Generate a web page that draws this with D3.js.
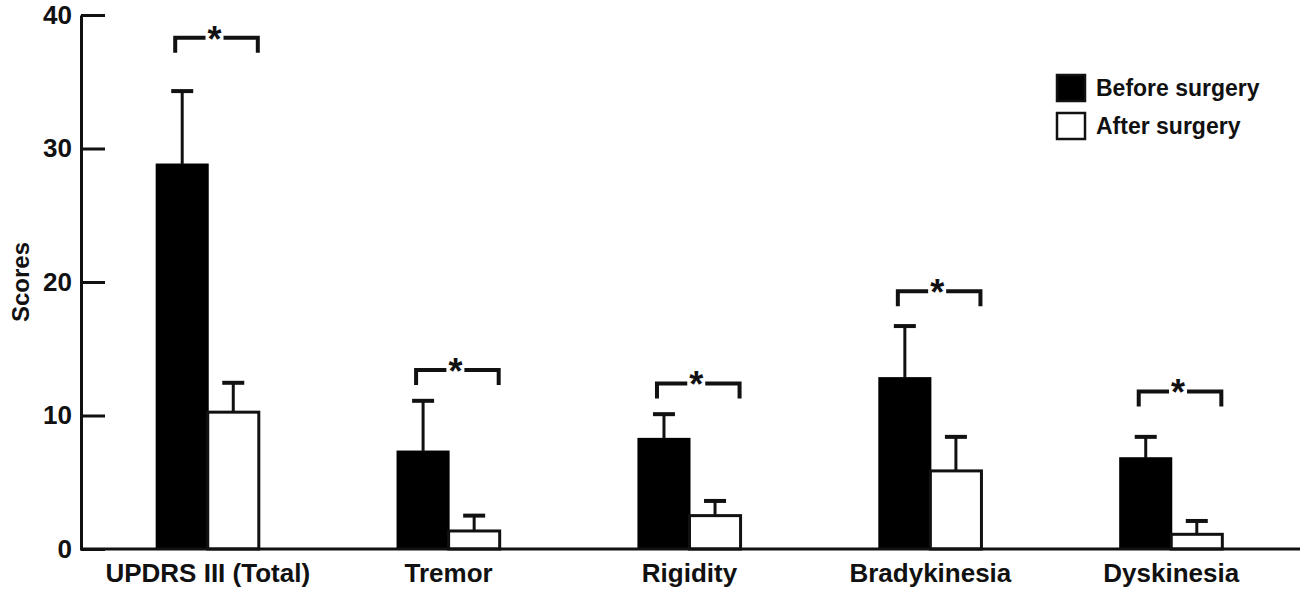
<!DOCTYPE html>
<html>
<head>
    <meta charset="utf-8">
    <title></title>
    <script src="https://cdn.jsdelivr.net/npm/d3@7"></script>
    <style>
        * {
            margin: 0;
            padding: 0;
        }

        body {
            background: #fff;
        }

        #chart text {
            font-family: "Liberation Sans", Arial, sans-serif;
            font-weight: bold;
            fill: #111;
        }
    </style>
</head>
<body>
    <div id="chart"></div>

    <script>
        // data
        var categories = ["UPDRS III (Total)", "Tremor", "Rigidity", "Bradykinesia", "Dyskinesia"];
        var beforeMean = [28.8, 7.3, 8.25, 12.8, 6.8];
        var beforeErr = [5.5, 3.8, 1.85, 3.9, 1.6];
        var afterMean = [10.25, 1.35, 2.5, 5.85, 1.1];
        var afterErr = [2.2, 1.15, 1.1, 2.55, 1.0];
        var sigLevel = [38.3, 13.4, 12.4, 19.3, 11.8];
        var yTicks = [0, 10, 20, 30, 40];
        var seriesNames = ["Before surgery", "After surgery"];

        var width = 1300, height = 599;

        var svg = d3.select("#chart")
            .append("svg")
            .attr("width", width)
            .attr("height", height);

        var x = d3.scaleBand()
            .domain(categories)
            .range([82, 1297])
            .paddingInner(0.576)
            .paddingOuter(0.31);

        var sub = d3.scaleBand()
            .domain(["before", "after"])
            .range([0, x.bandwidth()]);

        var y = d3.scaleLinear()
            .domain([0, 40])
            .range([549, 15]);

        var data = categories.map(function (c, i) {
            return {
                cat: c,
                before: beforeMean[i], beforeErr: beforeErr[i],
                after: afterMean[i], afterErr: afterErr[i],
                sig: sigLevel[i]
            };
        });

        // bars
        var g = svg.append("g");

        g.selectAll(".before")
            .data(data)
            .enter().append("rect")
            .attr("x", function (d) { return x(d.cat) + sub("before"); })
            .attr("y", function (d) { return y(d.before); })
            .attr("width", sub.bandwidth())
            .attr("height", function (d) { return y(0) - y(d.before); })
            .attr("fill", "#000")
            .attr("stroke", "#000")
            .attr("stroke-width", 2);

        g.selectAll(".after")
            .data(data)
            .enter().append("rect")
            .attr("x", function (d) { return x(d.cat) + sub("after"); })
            .attr("y", function (d) { return y(d.after); })
            .attr("width", sub.bandwidth())
            .attr("height", function (d) { return y(0) - y(d.after); })
            .attr("fill", "#fff")
            .attr("stroke", "#111")
            .attr("stroke-width", 3);

        // error bars
        function errorBars(key, errKey) {
            var cx = function (d) { return x(d.cat) + sub(key) + sub.bandwidth() / 2; };
            g.selectAll(".err-" + key)
                .data(data)
                .enter().append("line")
                .attr("x1", cx).attr("x2", cx)
                .attr("y1", function (d) { return y(d[key]); })
                .attr("y2", function (d) { return y(d[key] + d[errKey]); })
                .attr("stroke", "#111")
                .attr("stroke-width", 3);
            g.selectAll(".cap-" + key)
                .data(data)
                .enter().append("line")
                .attr("x1", function (d) { return cx(d) - 11; })
                .attr("x2", function (d) { return cx(d) + 11; })
                .attr("y1", function (d) { return y(d[key] + d[errKey]); })
                .attr("y2", function (d) { return y(d[key] + d[errKey]); })
                .attr("stroke", "#111")
                .attr("stroke-width", 4);
        }
        errorBars("before", "beforeErr");
        errorBars("after", "afterErr");

        // significance brackets
        data.forEach(function (d) {
            var x1 = x(d.cat) + sub("before") + sub.bandwidth() / 2 - 7;
            var x2 = x(d.cat) + sub("after") + sub.bandwidth() - 1;
            var xc = (x1 + x2) / 2 - 2;
            var ly = y(d.sig);
            svg.append("path")
                .attr("d", "M" + x1 + "," + (ly + 15) + "V" + ly + "H" + (xc - 9))
                .attr("fill", "none")
                .attr("stroke", "#111")
                .attr("stroke-width", 4);
            svg.append("path")
                .attr("d", "M" + (xc + 9) + "," + ly + "H" + x2 + "V" + (ly + 15))
                .attr("fill", "none")
                .attr("stroke", "#111")
                .attr("stroke-width", 4);
            svg.append("text")
                .attr("x", xc)
                .attr("y", ly + 14)
                .attr("text-anchor", "middle")
                .style("font-size", "36px")
                .text("*");
        });

        // y axis
        var yAxis = svg.append("g")
            .attr("transform", "translate(81,0)")
            .call(d3.axisLeft(y).tickValues(yTicks).tickSize(-24).tickSizeOuter(0).tickPadding(9));
        yAxis.selectAll("path, line").attr("stroke", "#111").attr("stroke-width", 3);
        yAxis.selectAll("text").style("font-size", "26px");

        // x axis
        var xAxis = svg.append("g")
            .attr("transform", "translate(0," + y(0) + ")")
            .call(d3.axisBottom(x).tickSize(0).tickPadding(15));
        xAxis.select(".domain").remove();
        xAxis.selectAll("text").style("font-size", "26px");

        svg.append("line")
            .attr("x1", 80).attr("x2", width)
            .attr("y1", y(0)).attr("y2", y(0))
            .attr("stroke", "#111")
            .attr("stroke-width", 3);

        // y label
        svg.append("text")
            .attr("transform", "translate(29,282) rotate(-90)")
            .attr("text-anchor", "middle")
            .style("font-size", "24px")
            .text("Scores");

        // legend
        var legend = svg.append("g").attr("transform", "translate(1056,74)");
        legend.selectAll("rect")
            .data(seriesNames)
            .enter().append("rect")
            .attr("x", 1)
            .attr("y", function (d, i) { return 1 + i * 38; })
            .attr("width", 28)
            .attr("height", 26)
            .attr("fill", function (d, i) { return i == 0 ? "#000" : "#fff"; })
            .attr("stroke", "#111")
            .attr("stroke-width", 2.5);
        legend.selectAll("text")
            .data(seriesNames)
            .enter().append("text")
            .attr("x", 40)
            .attr("y", function (d, i) { return 14 + i * 38; })
            .attr("dy", "0.35em")
            .style("font-size", "23px")
            .text(function (d) { return d; });
    </script>
</body>
</html>
